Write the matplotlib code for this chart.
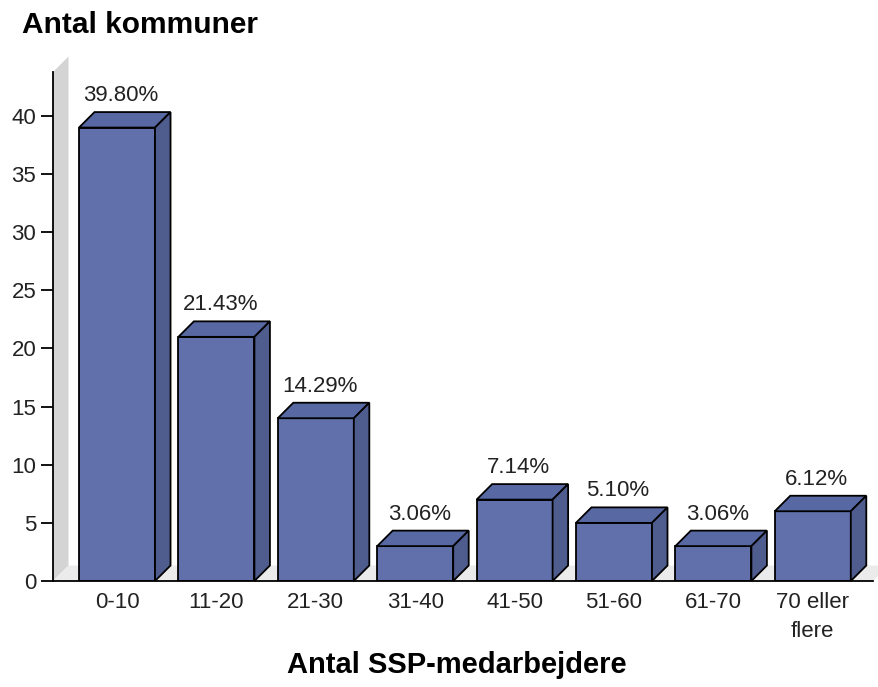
import matplotlib
matplotlib.use("Agg")
import matplotlib.pyplot as plt
from matplotlib.patches import Polygon

plt.rcParams["font.family"] = ["Liberation Sans", "DejaVu Sans"]

categories = ["0-10", "11-20", "21-30", "31-40", "41-50", "51-60", "61-70", "70 eller\nflere"]
counts = [39, 21, 14, 3, 7, 5, 3, 6]
percents = [39.80, 21.43, 14.29, 3.06, 7.14, 5.10, 3.06, 6.12]

front_col = "#6170aa"
top_col = "#5868a2"
side_col = "#4f5d8e"
wall_col = "#d4d4d4"
floor_col = "#ebebeb"

fig = plt.figure(figsize=(8.79, 6.87), dpi=100)
ax = fig.add_axes([53 / 879, (687 - 581) / 687, (873 - 53) / 879, (581 - 72) / 687])

xl, xr = -0.644, 7.606
yt = 43.78
ax.set_xlim(xl, xr)
ax.set_ylim(0, yt)

dx = 0.156   # depth offset in x units
dy = 1.333   # depth offset in y units
w = 0.765

# back wall and floor
ax.add_patch(Polygon([(xl, 0), (xl + dx, dy), (xl + dx, yt + dy), (xl, yt)],
                     closed=True, facecolor=wall_col, edgecolor="none", clip_on=False, zorder=0))
ax.add_patch(Polygon([(xl, 0), (xr, 0), (xr + dx, dy), (xl + dx, dy)],
                     closed=True, facecolor=floor_col, edgecolor="none", clip_on=False, zorder=0.5))

x = list(range(len(categories)))
ax.bar(x, counts, width=w, color=front_col, edgecolor="black", linewidth=1.3, zorder=3)

for xi, h, p in zip(x, counts, percents):
    top = [(xi - w / 2, h), (xi + w / 2, h), (xi + w / 2 + dx, h + dy), (xi - w / 2 + dx, h + dy)]
    side = [(xi + w / 2, 0), (xi + w / 2 + dx, dy), (xi + w / 2 + dx, h + dy), (xi + w / 2, h)]
    ax.add_patch(Polygon(top, closed=True, facecolor=top_col, edgecolor="black",
                         linewidth=1.3, clip_on=False, zorder=3))
    ax.add_patch(Polygon(side, closed=True, facecolor=side_col, edgecolor="black",
                         linewidth=1.3, clip_on=False, zorder=3))
    ax.text(xi + 0.04, h + dy + 0.95, f"{p:.2f}%", ha="center", va="baseline",
            fontsize=16, color="#222222", zorder=4)

for s in ["top", "right"]:
    ax.spines[s].set_visible(False)
ax.spines["left"].set_linewidth(1.3)
ax.spines["bottom"].set_linewidth(1.3)
ax.spines["left"].set_zorder(5)
ax.spines["bottom"].set_zorder(5)

ax.set_yticks(range(0, 45, 5))
ax.tick_params(axis="y", length=9, width=1.3, labelsize=16, pad=3, labelcolor="#222222")
ax.set_xticks(x)
ax.set_xticklabels(categories)
ax.tick_params(axis="x", length=0, labelsize=16, pad=8, labelcolor="#222222")
for lab in ax.get_xticklabels():
    lab.set_linespacing(1.5)
    lab.set_verticalalignment("top")

fig.text(22 / 879, 1 - 25 / 687, "Antal kommuner", fontsize=21.5, fontweight="bold",
         va="center", ha="left")
fig.text(457 / 879, 1 - 665 / 687, "Antal SSP-medarbejdere", fontsize=21, fontweight="bold",
         va="center", ha="center")

fig.savefig("out.png", dpi=100)
